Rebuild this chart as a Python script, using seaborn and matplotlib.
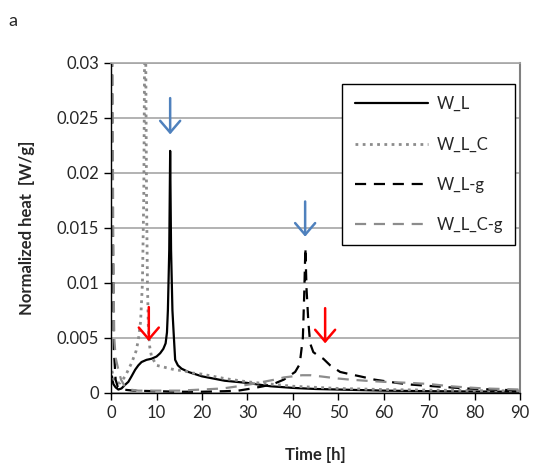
import pandas as pd
import matplotlib
matplotlib.use("Agg")
import matplotlib.pyplot as plt
import seaborn as sns

# values (time in h, normalized heat in W/g)
t_wl = [0.2, 0.5, 1.0, 1.6, 2.3, 3.0, 3.8, 4.5, 5.3, 6.0, 6.7, 7.8, 8.9, 10.0, 10.8, 11.5,
        12.0, 12.3, 12.5, 12.8, 13.0, 13.2, 13.5, 13.8, 14.1, 14.7, 15.5, 17.0, 18.5, 20,
        22.5, 25, 30, 35, 40, 45, 50, 60, 70, 80, 90]
q_wl = [0.0015, 0.0008, 0.0005, 0.0003, 0.0004, 0.0007, 0.001, 0.0015, 0.0021, 0.0025,
        0.0028, 0.0030, 0.0031, 0.0033, 0.0036, 0.0040, 0.0045, 0.0055, 0.0075, 0.013,
        0.022, 0.013, 0.0075, 0.0052, 0.003, 0.0025, 0.0022, 0.0019, 0.0017, 0.0015,
        0.0013, 0.0011, 0.0009, 0.0006, 0.00045, 0.00035, 0.0003, 0.0002, 0.00015,
        0.00012, 0.0001]

t_wlc = [0.2, 0.6, 1.2, 2.0, 3.1, 4.5, 5.5, 6.0, 6.5, 6.9, 7.2, 7.5, 7.8, 8.0, 8.2, 8.5,
         8.9, 10.0, 11.0, 12.0, 14.0, 16.0, 18.0, 20, 22.5, 25, 30, 35, 40, 50, 60, 70, 80, 90]
q_wlc = [0.002, 0.0012, 0.0009, 0.0009, 0.0015, 0.0027, 0.0038, 0.0048, 0.0065, 0.01,
         0.018, 0.04, 0.018, 0.01, 0.006, 0.0042, 0.0033, 0.0025, 0.0024, 0.0023, 0.0021,
         0.002, 0.0018, 0.0017, 0.0015, 0.0013, 0.001, 0.0008, 0.0006, 0.0004, 0.0003,
         0.00025, 0.0002, 0.00018]

t_wlg = [0, 0.3, 0.6, 1.0, 1.5, 2.5, 5, 10, 15, 20, 25, 28, 31, 33.5, 35.7, 38, 40.5, 41.5,
         42.2, 42.5, 42.75, 43.0, 43.4, 43.8, 44.5, 45.5, 46.7, 48.2, 50.4, 52.5, 54.8, 58,
         62.9, 66, 70.9, 78, 86, 90]
q_wlg = [0.05, 0.02, 0.004, 0.0012, 0.0005, 0.0003, 0.0002, 0.00015, 0.0001, 0.0001,
         0.00015, 0.0002, 0.0004, 0.0006, 0.0008, 0.0012, 0.0019, 0.0026, 0.005, 0.009,
         0.0132, 0.0095, 0.0065, 0.0045, 0.0037, 0.0034, 0.0031, 0.0025, 0.0019, 0.0017,
         0.0015, 0.0012, 0.0009, 0.00075, 0.0006, 0.0004, 0.00027, 0.00022]

t_wlcg = [0, 0.3, 0.5, 0.7, 1.0, 1.6, 2.2, 3, 4, 6, 10, 15, 20, 24.6, 28, 31, 33.5, 36, 38,
          40, 42, 44, 46, 48, 50, 52.6, 56, 60, 66, 70, 74.6, 78, 82, 86, 90]
q_wlcg = [0.05, 0.03, 0.012, 0.005, 0.0032, 0.0021, 0.0012, 0.0006, 0.0003, 0.0002, 0.0002,
          0.0002, 0.0003, 0.0004, 0.0006, 0.0008, 0.001, 0.0012, 0.0014, 0.0015, 0.0016,
          0.0016, 0.0015, 0.0014, 0.0013, 0.0012, 0.0011, 0.001, 0.0009, 0.0008, 0.0006,
          0.0005, 0.0004, 0.00035, 0.0003]

series = ["W_L", "W_L_C", "W_L-g", "W_L_C-g"]
x_ticks = [0, 10, 20, 30, 40, 50, 60, 70, 80, 90]
y_ticks = [0, 0.005, 0.01, 0.015, 0.02, 0.025, 0.03]
y_labels = ["0", "0.005", "0.01", "0.015", "0.02", "0.025", "0.03"]

sns.set_style("white")
plt.rcParams['font.family'] = ['Lato', 'DejaVu Sans']

fig, ax = plt.subplots(figsize=(5.34, 4.66), dpi=100)
fig.subplots_adjust(left=0.208, right=0.974, top=0.865, bottom=0.157)

styles = {
    "W_L": dict(color="black", linestyle="-", linewidth=1.6),
    "W_L_C": dict(color="#8c8c8c", linestyle=(0, (1, 1.6)), linewidth=2.0),
    "W_L-g": dict(color="black", linestyle=(0, (5, 3.5)), linewidth=1.6),
    "W_L_C-g": dict(color="#8c8c8c", linestyle=(0, (5, 3.5)), linewidth=1.6),
}
data = {"W_L": (t_wl, q_wl), "W_L_C": (t_wlc, q_wlc),
        "W_L-g": (t_wlg, q_wlg), "W_L_C-g": (t_wlcg, q_wlcg)}

for name in series:
    df = pd.DataFrame({"t": data[name][0], "q": data[name][1]})
    sns.lineplot(data=df, x="t", y="q", ax=ax, label=name, estimator=None,
                 sort=False, **styles[name])

ax.set_xlim(0, 90)
ax.set_ylim(0, 0.03)
ax.set_xticks(x_ticks)
ax.set_yticks(y_ticks)
ax.set_yticklabels(y_labels)
ax.tick_params(axis="both", labelsize=12, length=5, width=1, direction="out",
               color="black", left=True, bottom=True)

ax.yaxis.grid(True, color="#a6a6a6", linewidth=1.2)
ax.set_axisbelow(True)
for s in ["left", "bottom"]:
    ax.spines[s].set_color("black")
    ax.spines[s].set_linewidth(1.0)
ax.spines["top"].set_color("#a6a6a6")
ax.spines["top"].set_linewidth(1.2)
ax.spines["right"].set_color("#808080")
ax.spines["right"].set_linewidth(1.5)

ax.set_xlabel("Time [h]", fontsize=12, fontweight="bold")
ax.set_ylabel("Normalized heat  [W/g]", fontsize=12, fontweight="bold")
ax.xaxis.set_label_coords(0.5, -0.165)
ax.yaxis.set_label_coords(-0.185, 0.5)

# arrows
arrow_blue = dict(arrowstyle="->, head_length=0.7, head_width=0.6", color="#4f81bd",
                  lw=1.8, mutation_scale=12, shrinkA=0, shrinkB=0)
arrow_red = dict(arrowstyle="->, head_length=0.7, head_width=0.6", color="#ff0000",
                 lw=1.8, mutation_scale=12, shrinkA=0, shrinkB=0)
ax.annotate("", xy=(13.0, 0.0235), xytext=(13.0, 0.0268), arrowprops=arrow_blue)
ax.annotate("", xy=(42.7, 0.0142), xytext=(42.7, 0.0174), arrowprops=arrow_blue)
ax.annotate("", xy=(8.3, 0.0047), xytext=(8.3, 0.0078), arrowprops=arrow_red)
ax.annotate("", xy=(47.1, 0.0045), xytext=(47.1, 0.0077), arrowprops=arrow_red)

leg = ax.legend(loc="upper left", bbox_to_anchor=(0.565, 0.937), fontsize=12,
                frameon=True, fancybox=False, edgecolor="black", framealpha=1,
                handlelength=4.4, labelspacing=1.45, borderpad=0.75, handletextpad=0.5,
                borderaxespad=0)
leg.get_frame().set_linewidth(1.0)

fig.text(0.015, 0.945, "a", fontsize=13)

plt.savefig("out.png", dpi=100)
